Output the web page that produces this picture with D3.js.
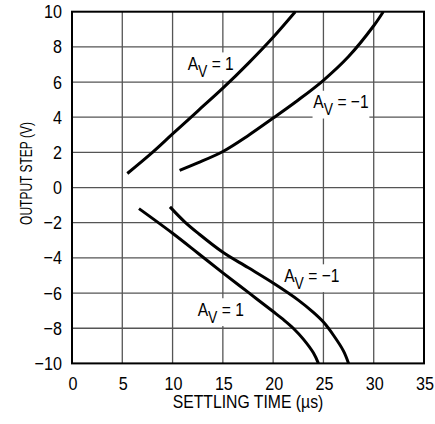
<!DOCTYPE html>
<html>
<head>
<meta charset="utf-8">
<script src="https://cdn.jsdelivr.net/npm/d3@7"></script>
<style>
  html, body { margin: 0; padding: 0; background: #fff; }
  svg { display: block; }
  text { font-family: "Liberation Sans", Arial, sans-serif; fill: #000; }
</style>
</head>
<body>
<svg id="chart" width="435" height="424"></svg>
<script>
// ---- data ----
const xTicks = [0, 5, 10, 15, 20, 25, 30, 35];
const yTicks = [-10, -8, -6, -4, -2, 0, 2, 4, 6, 8, 10];
const xTitle = "SETTLING TIME (\u00b5s)";
const yTitle = "OUTPUT STEP (V)";

// positive step, Av = 1
const posAv1X = [5.5, 8.0, 10, 12.5, 15, 17.5, 20, 22.2];
const posAv1Y = [0.8, 2.0, 3.05, 4.35, 5.65, 7.05, 8.55, 10];
// positive step, Av = -1
const posAvm1X = [10.7, 12.5, 15, 17.5, 20, 22.5, 25, 27.5, 30, 30.95];
const posAvm1Y = [0.98, 1.4, 2.05, 2.95, 3.95, 4.98, 6.1, 7.45, 9.2, 10];
// negative step, Av = -1
const negAvm1X = [9.74, 11.2, 12.5, 15, 17.5, 20, 22.5, 24, 25, 26, 27, 27.5];
const negAvm1Y = [-1.1, -1.95, -2.58, -3.68, -4.55, -5.43, -6.4, -7.1, -7.65, -8.4, -9.3, -10];
// negative step, Av = 1
const negAv1X = [6.66, 10, 12.5, 15, 17.5, 20, 21, 22, 23, 24, 24.5];
const negAv1Y = [-1.2, -2.6, -3.72, -4.85, -5.95, -7.05, -7.5, -8.0, -8.62, -9.4, -10];

// curve labels
const labelMain = ["A", "A", "A", "A"];
const labelSub = ["V", "V", "V", "V"];
const labelRest = [" = 1", " = \u22121", " = \u22121", " = 1"];
const labelX = [11.5, 24.0, 21.1, 12.5];
const labelY = [6.69, 4.51, -5.36, -7.29];

// ---- layout ----
const svg = d3.select("#chart");
const mLeft = 72, mRight = 424, mTop = 11.7, mBottom = 363.4;
const x = d3.scaleLinear().domain([0, 35]).range([mLeft, mRight]);
const y = d3.scaleLinear().domain([-10, 10]).range([mBottom, mTop]);
const SX = 0.83; // condensed look

function sText(parent, px, py, str, size, anchor, sx, rot) {
  const gg = parent.append("g")
    .attr("transform", `translate(${px},${py})` + (rot ? ` rotate(${rot})` : "") + ` scale(${sx},1)`);
  const t = gg.append("text").attr("text-anchor", anchor || "start").style("font-size", size + "px");
  if (str !== null) t.text(str);
  return { g: gg, t: t };
}

// grid
const g = svg.append("g");
g.selectAll("line.vx").data(xTicks.slice(1, -1)).enter().append("line")
  .attr("x1", d => x(d)).attr("x2", d => x(d))
  .attr("y1", mTop).attr("y2", mBottom)
  .attr("stroke", "#555").attr("stroke-width", 1.3);
g.selectAll("line.hy").data(yTicks.slice(1, -1)).enter().append("line")
  .attr("x1", mLeft).attr("x2", mRight)
  .attr("y1", d => y(d)).attr("y2", d => y(d))
  .attr("stroke", "#555").attr("stroke-width", 1.3);

// label backgrounds + labels
const labG = svg.append("g");
labelMain.forEach((m, i) => {
  const o = sText(labG, x(labelX[i]), y(labelY[i]), null, 19, "start", 0.82);
  o.t.append("tspan").text(m);
  o.t.append("tspan").text(labelSub[i]).style("font-size", "17px").attr("dy", 7);
  o.t.append("tspan").text(labelRest[i]).attr("dy", -7);
  const bb = o.t.node().getBBox();
  o.g.insert("rect", "text")
    .attr("x", bb.x - 1).attr("y", bb.y)
    .attr("width", bb.width + 2).attr("height", bb.height)
    .attr("fill", "#fff");
});

// frame
svg.append("rect")
  .attr("x", mLeft).attr("y", mTop)
  .attr("width", mRight - mLeft).attr("height", mBottom - mTop)
  .attr("fill", "none").attr("stroke", "#000").attr("stroke-width", 2);

// curves
const line = d3.line().x(d => x(d[0])).y(d => y(d[1])).curve(d3.curveCatmullRom.alpha(0.5));
[[posAv1X, posAv1Y], [posAvm1X, posAvm1Y], [negAvm1X, negAvm1Y], [negAv1X, negAv1Y]].forEach(([xs, ys]) => {
  svg.append("path")
    .attr("d", line(xs.map((v, i) => [v, ys[i]])))
    .attr("fill", "none").attr("stroke", "#000")
    .attr("stroke-width", 3).attr("stroke-linecap", "butt");
});

// tick labels
xTicks.forEach(d => sText(svg, x(d) + 1, 389.5, String(d), 19, "middle", 0.85));
yTicks.forEach(d => sText(svg, 62, y(d) + 6.5, d < 0 ? "\u2212" + Math.abs(d) : String(d), 19, "end", 0.85));

// axis titles
sText(svg, (mLeft + mRight) / 2, 407.5, xTitle, 19, "middle", SX);
sText(svg, 32, 173.5, yTitle, 16, "middle", 0.75, -90);
</script>
</body>
</html>
